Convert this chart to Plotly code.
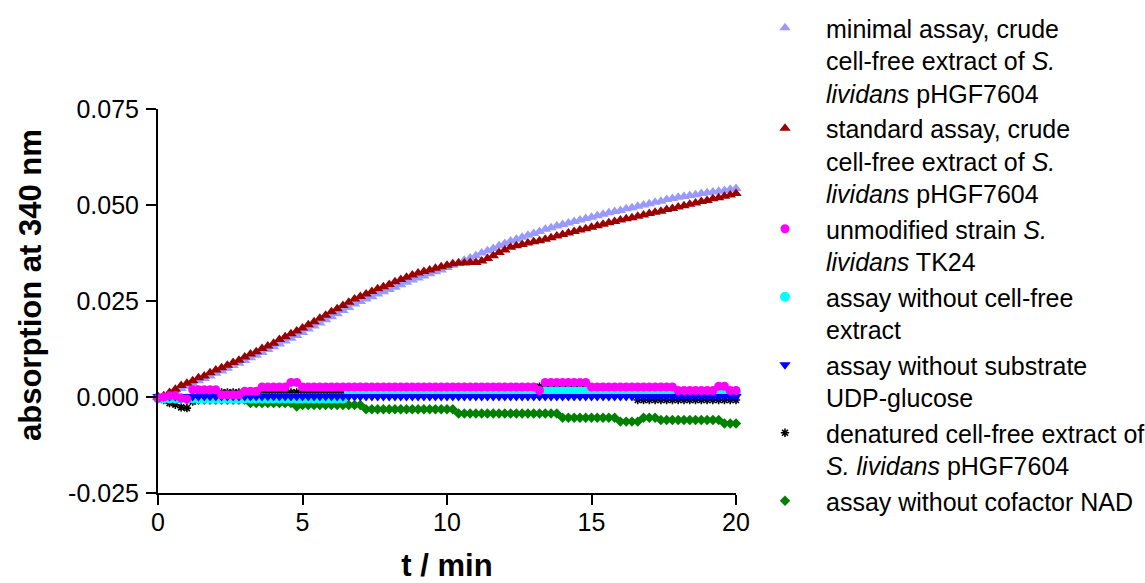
import plotly.graph_objects as go

# time points (min)
t_min = [0.0, 0.2, 0.4, 0.6, 0.8, 1.0, 1.2, 1.4, 1.6, 1.8,
         2.0, 2.2, 2.4, 2.6, 2.8, 3.0, 3.2, 3.4, 3.6, 3.8,
         4.0, 4.2, 4.4, 4.6, 4.8, 5.0, 5.2, 5.4, 5.6, 5.8,
         6.0, 6.2, 6.4, 6.6, 6.8, 7.0, 7.2, 7.4, 7.6, 7.8,
         8.0, 8.2, 8.4, 8.6, 8.8, 9.0, 9.2, 9.4, 9.6, 9.8,
         10.0, 10.2, 10.4, 10.6, 10.8, 11.0, 11.2, 11.4, 11.6, 11.8,
         12.0, 12.2, 12.4, 12.6, 12.8, 13.0, 13.2, 13.4, 13.6, 13.8,
         14.0, 14.2, 14.4, 14.6, 14.8, 15.0, 15.2, 15.4, 15.6, 15.8,
         16.0, 16.2, 16.4, 16.6, 16.8, 17.0, 17.2, 17.4, 17.6, 17.8,
         18.0, 18.2, 18.4, 18.6, 18.8, 19.0, 19.2, 19.4, 19.6, 19.8,
         20.0]

minimal_assay = [0.0000, 0.0002, 0.0008, 0.0015, 0.0022, 0.0028, 0.0035, 0.0042, 0.0048, 0.0055,
                 0.0062, 0.0068, 0.0075, 0.0082, 0.0088, 0.0095, 0.0102, 0.0109, 0.0116, 0.0124,
                 0.0131, 0.0138, 0.0146, 0.0153, 0.0160, 0.0168, 0.0177, 0.0185, 0.0193, 0.0201,
                 0.0209, 0.0217, 0.0225, 0.0233, 0.0242, 0.0249, 0.0255, 0.0261, 0.0268, 0.0274,
                 0.0280, 0.0286, 0.0292, 0.0299, 0.0305, 0.0310, 0.0315, 0.0321, 0.0326, 0.0331,
                 0.0337, 0.0343, 0.0349, 0.0356, 0.0362, 0.0368, 0.0375, 0.0381, 0.0387, 0.0394,
                 0.0400, 0.0406, 0.0411, 0.0416, 0.0421, 0.0426, 0.0431, 0.0437, 0.0441, 0.0445,
                 0.0449, 0.0453, 0.0457, 0.0461, 0.0465, 0.0468, 0.0472, 0.0476, 0.0480, 0.0483,
                 0.0486, 0.0490, 0.0493, 0.0497, 0.0500, 0.0503, 0.0507, 0.0510, 0.0514, 0.0517,
                 0.0520, 0.0522, 0.0525, 0.0527, 0.0530, 0.0532, 0.0534, 0.0536, 0.0538, 0.0541,
                 0.0543]

standard_assay = [0.0000, 0.0003, 0.0012, 0.0020, 0.0030, 0.0036, 0.0042, 0.0050, 0.0055, 0.0063,
                  0.0070, 0.0076, 0.0083, 0.0090, 0.0096, 0.0104, 0.0112, 0.0118, 0.0126, 0.0133,
                  0.0140, 0.0150, 0.0157, 0.0165, 0.0172, 0.0180, 0.0188, 0.0196, 0.0205, 0.0213,
                  0.0222, 0.0230, 0.0238, 0.0247, 0.0255, 0.0262, 0.0268, 0.0275, 0.0282, 0.0287,
                  0.0293, 0.0300, 0.0306, 0.0312, 0.0318, 0.0323, 0.0327, 0.0331, 0.0335, 0.0339,
                  0.0343, 0.0347, 0.0349, 0.0349, 0.0350, 0.0350, 0.0354, 0.0361, 0.0368, 0.0376,
                  0.0383, 0.0390, 0.0394, 0.0397, 0.0401, 0.0404, 0.0407, 0.0411, 0.0415, 0.0419,
                  0.0423, 0.0427, 0.0431, 0.0435, 0.0438, 0.0442, 0.0446, 0.0450, 0.0454, 0.0457,
                  0.0461, 0.0464, 0.0467, 0.0471, 0.0474, 0.0478, 0.0481, 0.0484, 0.0488, 0.0491,
                  0.0495, 0.0498, 0.0502, 0.0505, 0.0509, 0.0512, 0.0516, 0.0519, 0.0523, 0.0526,
                  0.0530]

unmodified_strain = [-0.0003, 0.0000, 0.0003, 0.0003, -0.0003, -0.0005, 0.0019, 0.0019, 0.0019, 0.0019,
                     0.0019, 0.0006, 0.0006, 0.0006, 0.0006, 0.0015, 0.0015, 0.0015, 0.0026, 0.0026,
                     0.0026, 0.0026, 0.0026, 0.0038, 0.0038, 0.0026, 0.0026, 0.0026, 0.0026, 0.0026,
                     0.0026, 0.0026, 0.0026, 0.0026, 0.0026, 0.0026, 0.0026, 0.0026, 0.0026, 0.0026,
                     0.0026, 0.0026, 0.0026, 0.0026, 0.0026, 0.0026, 0.0026, 0.0026, 0.0026, 0.0026,
                     0.0026, 0.0026, 0.0026, 0.0026, 0.0026, 0.0026, 0.0026, 0.0026, 0.0026, 0.0026,
                     0.0026, 0.0026, 0.0026, 0.0026, 0.0026, 0.0026, 0.0017, 0.0038, 0.0038, 0.0038,
                     0.0038, 0.0038, 0.0038, 0.0038, 0.0038, 0.0026, 0.0026, 0.0026, 0.0026, 0.0026,
                     0.0026, 0.0026, 0.0026, 0.0026, 0.0026, 0.0026, 0.0026, 0.0026, 0.0026, 0.0026,
                     0.0017, 0.0017, 0.0017, 0.0017, 0.0017, 0.0017, 0.0017, 0.0028, 0.0028, 0.0017,
                     0.0017]

no_extract = [-0.0004, -0.0004, -0.0004, -0.0004, -0.0004, -0.0004, -0.0004, -0.0004, -0.0004, -0.0004,
              -0.0004, -0.0004, -0.0004, -0.0004, -0.0004, -0.0004, -0.0004, -0.0004, -0.0004, -0.0004,
              -0.0004, -0.0004, -0.0004, -0.0004, -0.0004, -0.0004, -0.0004, -0.0004, -0.0004, -0.0004,
              -0.0004, -0.0004, -0.0004, 0.0014, 0.0014, 0.0014, 0.0014, 0.0014, 0.0014, 0.0014,
              0.0014, 0.0014, 0.0014, 0.0014, 0.0014, 0.0014, 0.0014, 0.0014, 0.0014, 0.0014,
              0.0014, 0.0014, 0.0014, 0.0014, 0.0014, 0.0014, 0.0014, 0.0014, 0.0014, 0.0014,
              0.0014, 0.0014, 0.0014, 0.0014, 0.0014, 0.0014, 0.0014, 0.0015, 0.0015, 0.0015,
              0.0015, 0.0015, 0.0015, 0.0015, 0.0015, 0.0013, 0.0013, 0.0013, 0.0013, 0.0013,
              0.0013, 0.0013, 0.0013, 0.0013, 0.0013, 0.0013, 0.0013, 0.0013, 0.0013, 0.0013,
              0.0013, 0.0013, 0.0013, 0.0013, 0.0013, 0.0013, 0.0013, 0.0014, 0.0014, 0.0013,
              0.0013]

no_substrate = [0.0001, 0.0001, 0.0001, 0.0001, 0.0001, 0.0001, 0.0001, 0.0001, 0.0001, 0.0001,
                0.0001, 0.0001, 0.0001, 0.0001, 0.0001, 0.0001, 0.0001, 0.0001, 0.0001, 0.0001,
                0.0001, 0.0001, 0.0001, 0.0001, 0.0001, 0.0001, 0.0001, 0.0001, 0.0001, 0.0001,
                0.0001, 0.0001, 0.0001, 0.0001, 0.0001, 0.0001, 0.0001, 0.0001, 0.0001, 0.0001,
                0.0001, 0.0001, 0.0001, 0.0001, 0.0001, 0.0001, 0.0001, 0.0001, 0.0001, 0.0001,
                0.0001, 0.0001, 0.0001, 0.0001, 0.0001, 0.0001, 0.0001, 0.0001, 0.0001, 0.0001,
                0.0001, 0.0001, 0.0001, 0.0001, 0.0001, 0.0001, 0.0001, 0.0001, 0.0001, 0.0001,
                0.0001, 0.0001, 0.0001, 0.0001, 0.0001, 0.0001, 0.0001, 0.0001, 0.0001, 0.0001,
                0.0001, 0.0001, 0.0001, 0.0001, 0.0001, 0.0001, 0.0001, 0.0001, 0.0001, 0.0001,
                0.0001, 0.0001, 0.0001, 0.0001, 0.0001, 0.0001, 0.0001, 0.0001, 0.0001, 0.0001,
                0.0001]

denatured_extract = [0.0000, -0.0008, -0.0016, -0.0020, -0.0027, -0.0029, -0.0012, 0.0012, 0.0012, 0.0012,
                     0.0012, 0.0012, 0.0012, 0.0012, 0.0012, 0.0012, 0.0012, 0.0012, 0.0012, 0.0012,
                     0.0012, 0.0012, 0.0012, 0.0012, 0.0012, 0.0012, 0.0012, 0.0012, 0.0012, 0.0012,
                     0.0012, 0.0012, 0.0012, 0.0012, 0.0012, 0.0012, 0.0012, 0.0012, 0.0012, 0.0012,
                     0.0012, 0.0012, 0.0012, 0.0012, 0.0012, 0.0012, 0.0012, 0.0012, 0.0012, 0.0012,
                     0.0012, 0.0012, 0.0012, 0.0012, 0.0012, 0.0012, 0.0012, 0.0012, 0.0012, 0.0012,
                     0.0012, 0.0012, 0.0012, 0.0012, 0.0012, 0.0012, 0.0027, 0.0027, 0.0027, 0.0027,
                     0.0027, 0.0027, 0.0027, 0.0027, 0.0027, 0.0012, 0.0012, 0.0012, 0.0012, 0.0012,
                     0.0012, 0.0012, 0.0012, -0.0008, -0.0008, -0.0008, -0.0008, -0.0008, -0.0008, -0.0008,
                     -0.0008, -0.0008, -0.0008, -0.0008, -0.0008, -0.0008, -0.0008, -0.0008, -0.0008, -0.0008,
                     -0.0008]

no_nad = [0.0000, -0.0003, -0.0003, -0.0003, -0.0003, -0.0007, -0.0007, -0.0007, -0.0007, -0.0007,
          -0.0007, -0.0007, -0.0007, -0.0007, -0.0007, -0.0007, -0.0016, -0.0016, -0.0016, -0.0016,
          -0.0016, -0.0016, -0.0016, -0.0016, -0.0025, -0.0021, -0.0021, -0.0021, -0.0021, -0.0021,
          -0.0021, -0.0021, -0.0021, -0.0021, -0.0021, -0.0021, -0.0032, -0.0032, -0.0032, -0.0032,
          -0.0032, -0.0032, -0.0032, -0.0032, -0.0032, -0.0032, -0.0032, -0.0032, -0.0032, -0.0032,
          -0.0032, -0.0032, -0.0043, -0.0043, -0.0043, -0.0043, -0.0043, -0.0043, -0.0043, -0.0043,
          -0.0043, -0.0043, -0.0043, -0.0043, -0.0043, -0.0043, -0.0043, -0.0043, -0.0043, -0.0043,
          -0.0054, -0.0054, -0.0054, -0.0054, -0.0054, -0.0054, -0.0054, -0.0054, -0.0054, -0.0054,
          -0.0064, -0.0064, -0.0064, -0.0064, -0.0054, -0.0054, -0.0054, -0.0060, -0.0060, -0.0060,
          -0.0060, -0.0060, -0.0060, -0.0060, -0.0060, -0.0060, -0.0060, -0.0060, -0.0069, -0.0069,
          -0.0069]

series_names = [
    "minimal assay, crude<br>cell-free extract of <i>S.</i><br><i>lividans</i> pHGF7604",
    "standard assay, crude<br>cell-free extract of <i>S.</i><br><i>lividans</i> pHGF7604",
    "unmodified strain <i>S.</i><br><i>lividans</i> TK24",
    "assay without cell-free<br>extract",
    "assay without substrate<br>UDP-glucose",
    "denatured cell-free extract of<br><i>S. lividans</i> pHGF7604",
    "assay without cofactor NAD",
]

y_tick_vals = [-0.025, 0.000, 0.025, 0.050, 0.075]
y_tick_text = ["-0.025", "0.000", "0.025", "0.050", "0.075"]
x_tick_vals = [0, 5, 10, 15, 20]
x_tick_text = ["0", "5", "10", "15", "20"]

FONT = "Liberation Sans, Arial, sans-serif"
W, H = 1145, 583
ML, MR = 158, 409
PLOT_TOP_PX, PLOT_BOTTOM_PX = 109, 493


def py(px):
    """pixel row -> paper y (top/bottom margins are 0)"""
    return (H - px) / H


def px_x(px):
    return (px - ML) / (W - ML - MR)


# (values, name index, symbol, color, size) in drawing order (bottom to top)
traces = [
    (no_nad, 6, "diamond", "#008000", 8),
    (denatured_extract, 5, "asterisk-open", "#000000", 7),
    (no_extract, 3, "circle", "#00FFFF", 10),
    (no_substrate, 4, "triangle-down", "#0000FF", 10),
    (minimal_assay, 0, "triangle-up", "#9999FF", 10),
    (standard_assay, 1, "triangle-up", "#990000", 10),
    (unmodified_strain, 2, "circle", "#FF00FF", 9),
]

fig = go.Figure()
for vals, idx, sym, col, size in traces:
    if sym == "asterisk-open":
        marker = dict(symbol=sym, color=col, size=size, line=dict(width=1.6, color=col))
    else:
        marker = dict(symbol=sym, color=col, size=size, line=dict(width=0))
    fig.add_trace(go.Scatter(
        x=t_min, y=vals, mode="markers", name=series_names[idx],
        marker=marker, cliponaxis=False, legendrank=idx + 1,
    ))

fig.update_layout(
    width=W, height=H,
    margin=dict(l=ML, r=MR, t=0, b=0, autoexpand=False),
    paper_bgcolor="white", plot_bgcolor="white",
    font=dict(family=FONT, size=25, color="black"),
    showlegend=True,
    legend=dict(
        x=px_x(744), y=py(5), xanchor="left", yanchor="top",
        font=dict(family=FONT, size=25, color="black"),
        valign="top", itemwidth=72, tracegroupgap=0,
        traceorder="normal", bgcolor="rgba(0,0,0,0)",
    ),
    xaxis=dict(
        range=[0, 20], tickvals=x_tick_vals, ticktext=x_tick_text,
        showline=True, linecolor="black", linewidth=2,
        ticks="outside", ticklen=10, tickwidth=2, tickcolor="black",
        ticklabelstandoff=-4,
        showgrid=False, zeroline=False, automargin=False,
        tickfont=dict(family=FONT, size=25, color="black"),
        title=dict(text="<b>t / min</b>", font=dict(family=FONT, size=31, color="black"), standoff=42),
    ),
    yaxis=dict(
        domain=[py(PLOT_BOTTOM_PX), py(PLOT_TOP_PX)],
        range=[-0.025, 0.075], tickvals=y_tick_vals, ticktext=y_tick_text,
        showline=True, linecolor="black", linewidth=2,
        ticks="outside", ticklen=10, tickwidth=2, tickcolor="black",
        ticklabelstandoff=2,
        showgrid=False, zeroline=False, automargin=False,
        tickfont=dict(family=FONT, size=25, color="black"),
    ),
    annotations=[dict(
        text="<b>absorption at 340 nm</b>", textangle=-90,
        xref="paper", yref="paper", x=px_x(30), y=py(285),
        xanchor="center", yanchor="middle", showarrow=False,
        font=dict(family=FONT, size=31, color="black"),
    )],
)

fig.write_html("out.html")
